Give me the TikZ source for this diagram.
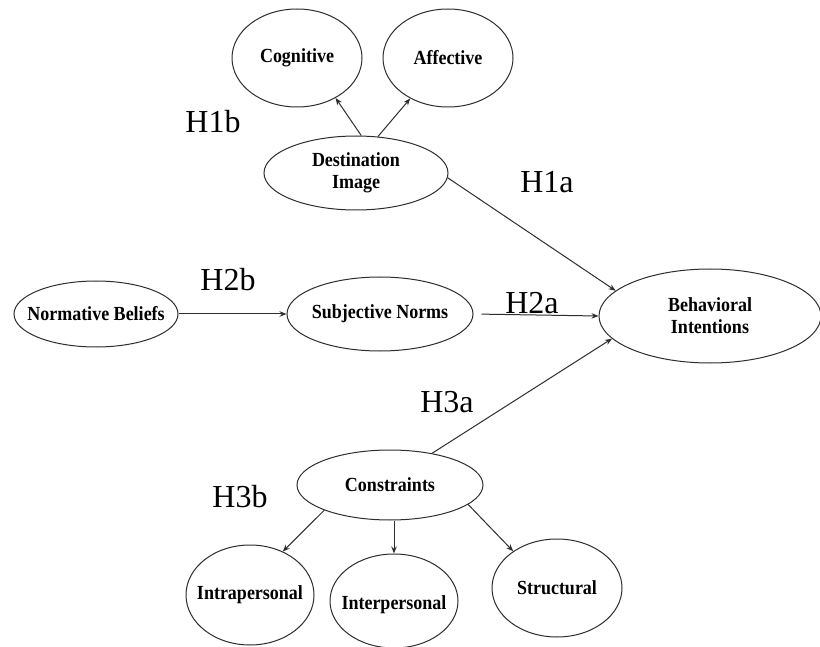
\documentclass[tikz,border=0pt]{standalone}
\usepackage{fontspec}
\setmainfont{Liberation Serif}
\newfontfamily\boxfont[FakeStretch=0.9]{Liberation Serif}
\usetikzlibrary{shapes.geometric,arrows.meta}
\begin{document}
\begin{tikzpicture}[x=1pt,y=-1pt,
  ell/.style 2 args={draw=black!82, line width=1pt, ellipse, inner sep=0pt,
    minimum width=#1, minimum height=#2},
  nodetext/.style={font=\boxfont\fontsize{20}{22}\selectfont\bfseries, align=center, inner sep=0pt},
  hyp/.style={font=\fontsize{32}{36}\selectfont, inner sep=0pt},
  link/.style={draw=black!82, line width=1pt, -{Stealth[length=7pt,width=5.5pt]}}]
\fill[white] (0,0) rectangle (820,647);
\useasboundingbox (0,0) rectangle (820,647);

% constructs
\node[ell={130}{98}, label={[nodetext]center:Cognitive}] (cog) at (297,58) {};
\node[ell={130}{98}, label={[nodetext]center:Affective}] (aff) at (448,58) {};
\node[ell={184}{74}, label={[nodetext]center:{Destination\\Image}}] (dest) at (356,173) {};
\node[ell={164}{66}, label={[nodetext]center:Normative Beliefs}] (norm) at (96,314) {};
\node[ell={186}{74}, label={[nodetext]center:Subjective Norms}] (subj) at (380,314) {};
\node[ell={222}{94}, label={[nodetext]center:{Behavioral\\Intentions}}] (beh) at (710,316) {};
\node[ell={186}{70}, label={[nodetext]center:Constraints}] (cons) at (390,485) {};
\node[ell={128}{100}, label={[nodetext]center:Intrapersonal}] (intra) at (250,595) {};
\node[ell={128}{94}, label={[nodetext,yshift=-4pt]center:Interpersonal}] (inter) at (394,601) {};
\node[ell={130}{98}, label={[nodetext]center:Structural}] (struct) at (557,588) {};

% hypothesis labels
\node[hyp] (h1b) at (213,122) {H1b};
\node[hyp] (h1a) at (547,182) {H1a};
\node[hyp] (h2b) at (228,280) {H2b};
\node[hyp] (h2a) at (532,303) {H2a};
\node[hyp] (h3a) at (447,402) {H3a};
\node[hyp] (h3b) at (240,497) {H3b};

% paths
\draw[link] (dest.82) -- (cog.-46);
\draw[link] (dest.59) -- (aff.-133);
\draw[link] (dest.-3) -- (beh.165);
\draw[link] (norm.east) -- (subj.west);
\draw[link, shorten <=8pt] (subj.east) -- (beh.west);
\draw[link] (cons.37) -- (beh.193);
\draw[link] (cons.201) -- (intra.53);
\draw[link] (inter.north |- cons.south) -- (inter.north);
\draw[link] (cons.-14) -- (struct.140);
\end{tikzpicture}
\end{document}
